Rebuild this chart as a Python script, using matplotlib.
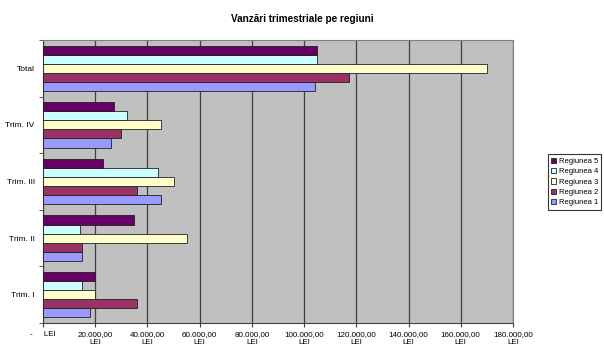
import matplotlib
matplotlib.use("Agg")
import matplotlib.pyplot as plt
import numpy as np

plt.rcParams['font.family'] = ['Liberation Sans', 'DejaVu Sans']

categories = ["Trim. I", "Trim. II", "Trim. III", "Trim. IV", "Total"]
series_names = ["Regiunea 1", "Regiunea 2", "Regiunea 3", "Regiunea 4", "Regiunea 5"]
regiunea1 = [18000, 15000, 45000, 26000, 104000]
regiunea2 = [36000, 15000, 36000, 30000, 117000]
regiunea3 = [20000, 55000, 50000, 45000, 170000]
regiunea4 = [15000, 14000, 44000, 32000, 105000]
regiunea5 = [20000, 35000, 23000, 27000, 105000]
xticks = [0, 20000, 40000, 60000, 80000, 100000, 120000, 140000, 160000, 180000]
xticklabels = ["-     LEI", "20.000,00\nLEI", "40.000,00\nLEI", "60.000,00\nLEI", "80.000,00\nLEI",
               "100.000,00\nLEI", "120.000,00\nLEI", "140.000,00\nLEI", "160.000,00\nLEI", "180.000,00\nLEI"]
colors = ["#9999FF", "#993366", "#FFFFCC", "#CCFFFF", "#660066"]

data = [regiunea1, regiunea2, regiunea3, regiunea4, regiunea5]

fig = plt.figure(figsize=(6.04, 3.5), dpi=100)
ax = fig.add_axes([43/604, 27/350, 470/604, 283/350])
ax.set_facecolor("#C0C0C0")

y = np.arange(len(categories))
h = 0.16
handles = []
for i, (vals, c, name) in enumerate(zip(data, colors, series_names)):
    b = ax.barh(y - 0.4 + h/2 + i*h, vals, height=h, color=c, edgecolor="#202020",
                linewidth=0.6, label=name, zorder=3)
    handles.append(b)

ax.set_xlim(0, 180000)
ax.set_ylim(-0.5, len(categories) - 0.5)
ax.set_xticks(xticks)
ax.set_xticklabels(xticklabels, fontsize=5.8, linespacing=1.05)
ax.set_yticks(y)
ax.set_yticklabels(categories, fontsize=6)
ax.tick_params(axis='y', length=0, pad=6)
ax.set_yticks(np.arange(-0.5, len(categories)), minor=True)
ax.tick_params(axis='y', which='minor', length=3, color="#404040")
ax.tick_params(axis='x', length=3, color="#404040", pad=3)
ax.grid(axis='x', color="#404040", linewidth=0.9, zorder=1)
ax.set_axisbelow(True)
for s in ax.spines.values():
    s.set_color("#808080")
    s.set_linewidth(0.8)
ax.spines['left'].set_color("#404040")
ax.spines['bottom'].set_color("#404040")

fig.text(0.5, 1 - 19/350, "Vanzări trimestriale pe regiuni", ha='center', va='center',
         fontsize=7.2, fontweight='bold')

leg = fig.legend(handles[::-1], series_names[::-1], loc='center left',
                 bbox_to_anchor=(548/604, 1 - 182/350), fontsize=5.5, frameon=True,
                 fancybox=False, edgecolor="black", handlelength=0.7, handleheight=0.7,
                 handletextpad=0.3, borderpad=0.4, labelspacing=0.4, borderaxespad=0)
leg.get_frame().set_linewidth(0.8)

fig.savefig("out.png", dpi=100, facecolor="white")
